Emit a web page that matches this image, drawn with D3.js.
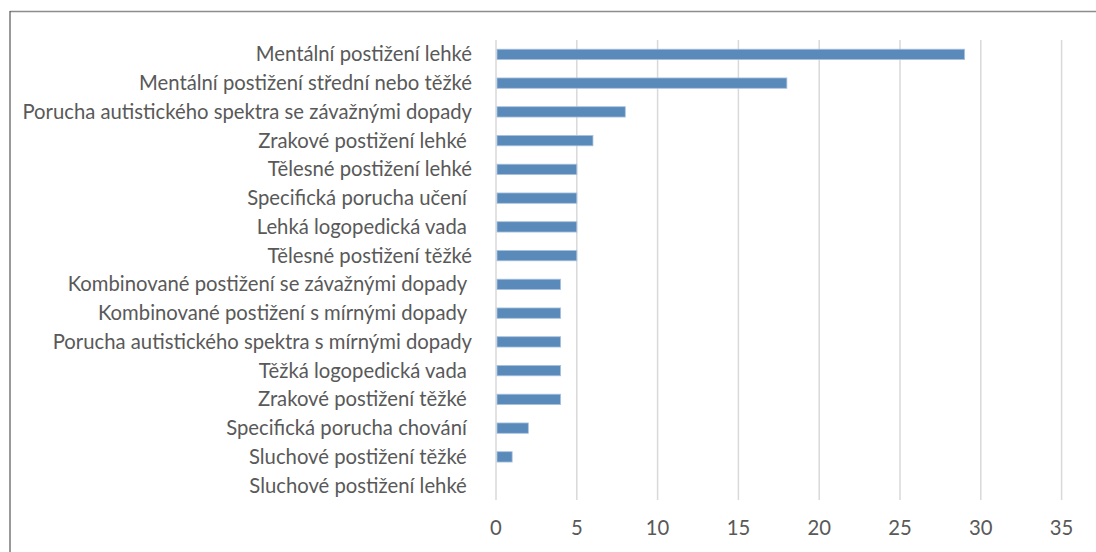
<!DOCTYPE html>
<html>
<head>
<meta charset="utf-8">
<script src="https://cdn.jsdelivr.net/npm/d3@7"></script>
<style>
  html, body { margin: 0; padding: 0; background: #fff; }
  svg { display: block; }
  text { font-family: Lato, "Open Sans", sans-serif; fill: #595959; white-space: pre; }
</style>
</head>
<body>
<svg id="chart" width="1096" height="552"></svg>
<script>
// Categories, top to bottom
const categories = [
  "Mentální postižení lehké",
  "Mentální postižení střední nebo těžké",
  "Porucha autistického spektra se závažnými dopady",
  "Zrakové postižení lehké ",
  "Tělesné postižení lehké",
  "Specifická porucha učení ",
  "Lehká logopedická vada ",
  "Tělesné postižení těžké",
  "Kombinované postižení se závažnými dopady ",
  "Kombinované postižení s mírnými dopady ",
  "Porucha autistického spektra s mírnými dopady",
  "Těžká logopedická vada ",
  "Zrakové postižení těžké ",
  "Specifická porucha chování ",
  "Sluchové postižení těžké ",
  "Sluchové postižení lehké "
];
const values = [29, 18, 8, 6, 5, 5, 5, 5, 4, 4, 4, 4, 4, 2, 1, 0];
const xTicks = [0, 5, 10, 15, 20, 25, 30, 35];

const svg = d3.select("#chart");

// Frame of the chart area
svg.append("line").attr("x1", 10).attr("x2", 1096).attr("y1", 11.5).attr("y2", 11.5)
  .attr("stroke", "#8c8c8c").attr("stroke-width", 1.5);
svg.append("line").attr("x1", 10).attr("x2", 10).attr("y1", 11).attr("y2", 552)
  .attr("stroke", "#555").attr("stroke-width", 1.2);

const x = d3.scaleLinear().domain([0, 35]).range([496, 1061.6]);
const y = d3.scaleBand().domain(categories).range([40, 500]).paddingInner(0.64).paddingOuter(0.32);

// Vertical gridlines
svg.append("g").selectAll("line").data(xTicks).join("line")
  .attr("x1", d => x(d)).attr("x2", d => x(d))
  .attr("y1", 40).attr("y2", 500)
  .attr("stroke", "#d9d9d9").attr("stroke-width", 1.5);

// Bars
svg.append("g").selectAll("rect").data(values).join("rect")
  .attr("x", x(0) + 1)
  .attr("y", (d, i) => y(categories[i]))
  .attr("width", d => Math.max(0, x(d) - x(0) - 1))
  .attr("height", y.bandwidth())
  .attr("fill", "#5a8aba")
  .attr("stroke", d => d > 0 ? "#a9c2de" : "none")
  .attr("stroke-width", 0.8);

// Category labels
const labels = svg.append("g").selectAll("text").data(categories).join("text")
  .attr("x", 472)
  .attr("y", d => y(d) + y.bandwidth() / 2)
  .attr("dy", "0.35em")
  .attr("text-anchor", "end")
  .attr("font-size", 16)
  .text(d => d);

// Fit label size so the longest label spans the left margin
const longest = d3.max(labels.nodes(), n => n.getComputedTextLength());
const size = 16 * 450 / longest;
labels.attr("font-size", size);

// X axis tick labels
svg.append("g").selectAll("text").data(xTicks).join("text")
  .attr("x", d => x(d))
  .attr("y", 528)
  .attr("dy", "0.35em")
  .attr("text-anchor", "middle")
  .attr("font-size", size)
  .text(d => d);
</script>
</body>
</html>
